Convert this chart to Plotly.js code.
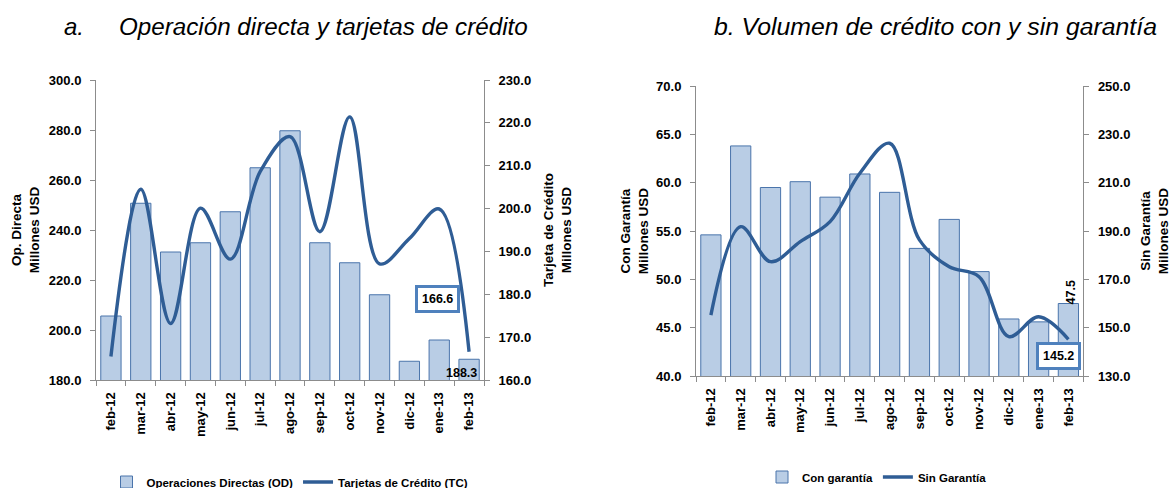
<!DOCTYPE html>
<html>
<head>
<meta charset="utf-8">
<script src="https://cdn.plot.ly/plotly-3.0.1.min.js"></script>
<style>html,body{margin:0;padding:0;background:#fff;overflow:hidden}#chart{width:1171px;height:488px}</style>
</head>
<body>
<div id="chart"></div>
<script>
const categories = ['feb-12','mar-12','abr-12','may-12','jun-12','jul-12','ago-12','sep-12','oct-12','nov-12','dic-12','ene-13','feb-13'];
const operacionesDirectas = [205.6, 250.7, 231.2, 234.9, 247.3, 264.9, 279.7, 234.9, 226.9, 214.1, 187.5, 196.0, 188.3];
const tarjetasCredito = [165.5, 204.5, 173.2, 200.1, 188.2, 208.6, 216.8, 194.6, 221.4, 187.1, 193.0, 199.9, 166.6];
const conGarantia = [54.6, 63.8, 59.5, 60.1, 58.5, 60.9, 59.0, 53.2, 56.2, 50.8, 45.9, 45.6, 47.5];
const sinGarantia = [155.2, 191.8, 177.3, 185.6, 193.9, 213.9, 226.3, 186.3, 175.2, 171.1, 146.3, 154.5, 145.2];

const FONT = '"Liberation Sans", Arial, sans-serif';
const BAR_FILL = '#b9cde5';
const BAR_LINE = '#4a74ab';
const LINE_COL = '#2f5d95';
const AXIS_COL = '#8c8c8c';
const last = a => a[a.length - 1];

const traces = [
  {type:'bar', x:categories, y:operacionesDirectas, xaxis:'x', yaxis:'y', name:'Operaciones Directas (OD)',
   marker:{color:BAR_FILL, line:{color:BAR_LINE, width:1}}, width:0.68, legend:'legend'},
  {type:'scatter', mode:'lines', x:categories, y:tarjetasCredito, xaxis:'x', yaxis:'y2', name:'Tarjetas de Crédito (TC)',
   line:{color:LINE_COL, width:3.4, shape:'spline', smoothing:1}, legend:'legend'},
  {type:'bar', x:categories, y:conGarantia, xaxis:'x2', yaxis:'y3', name:'Con garantía',
   marker:{color:BAR_FILL, line:{color:BAR_LINE, width:1}}, width:0.68, legend:'legend2'},
  {type:'scatter', mode:'lines', x:categories, y:sinGarantia, xaxis:'x2', yaxis:'y4', name:'Sin Garantía',
   line:{color:LINE_COL, width:3.4, shape:'spline', smoothing:1}, legend:'legend2'}
];

const W = 1171, H = 488;
const px = v => v / W;
const py = v => (H - v) / H;

const tickFont = {family:FONT, size:13, color:'#000', weight:'bold'};
const axTitleFont = {family:FONT, size:13.5, color:'#000', weight:'bold'};

function xAxis(domain, anchor){
  return {domain:domain, anchor:anchor, type:'category', range:[-0.5, 12.5],
    showline:true, linecolor:AXIS_COL, linewidth:1, ticks:'outside', tickson:'boundaries',
    ticklen:5, tickcolor:AXIS_COL, tickangle:-90, tickfont:tickFont, ticklabelstandoff:6,
    showgrid:false, zeroline:false, fixedrange:true};
}
function yAxis(domain, anchor, range, dtick, side, title, overlaying, standoff){
  const a = {domain:domain, anchor:anchor, range:range, dtick:dtick, tick0:range[0], side:side,
    tickformat:'.1f', showline:true, linecolor:AXIS_COL, linewidth:1, ticks:'outside', ticklen:5, tickcolor:AXIS_COL,
    tickfont:tickFont, ticklabelstandoff:6, showgrid:false, zeroline:false, fixedrange:true,
    title:{text:title, font:axTitleFont, standoff:standoff}};
  if (overlaying) a.overlaying = overlaying;
  return a;
}

const dl = [px(96), px(484)];
const dr = [px(696), px(1083.3)];
const ydl = [py(380), py(80)];
const ydr = [py(376), py(86)];

const legFont = {family:FONT, size:11.5, color:'#000', weight:'bold'};

const layout = {
  width:W, height:H, margin:{l:0, r:0, t:0, b:0, autoexpand:false},
  paper_bgcolor:'#fff', plot_bgcolor:'rgba(0,0,0,0)',
  font:{family:FONT, color:'#000'},
  barmode:'group',
  xaxis: xAxis(dl, 'y'),
  yaxis: yAxis(ydl, 'x', [180, 300], 20, 'left', 'Op. Directa<br>Millones USD', null, 6),
  yaxis2: yAxis(ydl, 'x', [160, 230], 10, 'right', 'Tarjeta de Crédito<br>Millones USD', 'y', 13),
  xaxis2: xAxis(dr, 'y3'),
  yaxis3: yAxis(ydr, 'x2', [40, 70], 5, 'left', 'Con Garantía<br>Millones USD', null, 4),
  yaxis4: yAxis(ydr, 'x2', [130, 250], 20, 'right', 'Sin Garantía<br>Millones USD', 'y3', 18),
  showlegend:true,
  legend:{orientation:'h', x:px(290), xanchor:'center', y:py(482), yanchor:'middle',
    font:legFont, bgcolor:'rgba(0,0,0,0)', itemwidth:30, traceorder:'normal'},
  legend2:{orientation:'h', x:px(877), xanchor:'center', y:py(477), yanchor:'middle',
    font:legFont, bgcolor:'rgba(0,0,0,0)', itemwidth:30, traceorder:'normal'},
  annotations:[
    {xref:'paper', yref:'paper', x:px(62), y:py(26), xanchor:'left', yanchor:'middle', showarrow:false,
     text:'a.', font:{family:FONT, size:24, style:'italic', color:'#000'}},
    {xref:'paper', yref:'paper', x:px(117), y:py(26), xanchor:'left', yanchor:'middle', showarrow:false,
     text:'Operación directa y tarjetas de crédito', font:{family:FONT, size:24.2, style:'italic', color:'#000'}},
    {xref:'paper', yref:'paper', x:px(712), y:py(26), xanchor:'left', yanchor:'middle', showarrow:false,
     text:'b. Volumen de crédito con y sin garantía', font:{family:FONT, size:24.8, style:'italic', color:'#000'}},
    {xref:'x', yref:'y2', x:10.95, y:179, showarrow:false, text:last(tarjetasCredito).toFixed(1),
     font:{family:FONT, size:12.5, color:'#000', weight:'bold'}, bgcolor:'#fff', bordercolor:'#4f81bd', borderwidth:3, borderpad:4},
    {xref:'x', yref:'y', x:11.75, y:183, showarrow:false, text:last(operacionesDirectas).toFixed(1),
     font:{family:FONT, size:12.5, color:'#000', weight:'bold'}},
    {xref:'x2', yref:'y4', x:11.67, y:138.3, showarrow:false, text:last(sinGarantia).toFixed(1),
     font:{family:FONT, size:12.5, color:'#000', weight:'bold'}, bgcolor:'#fff', bordercolor:'#4f81bd', borderwidth:3, borderpad:4},
    {xref:'x2', yref:'y3', x:12.07, y:48.7, showarrow:false, textangle:-90, text:last(conGarantia).toFixed(1),
     font:{family:FONT, size:12.5, color:'#000', weight:'bold'}}
  ]
};

Plotly.newPlot('chart', traces, layout, {staticPlot:true, displayModeBar:false});
</script>
</body>
</html>
